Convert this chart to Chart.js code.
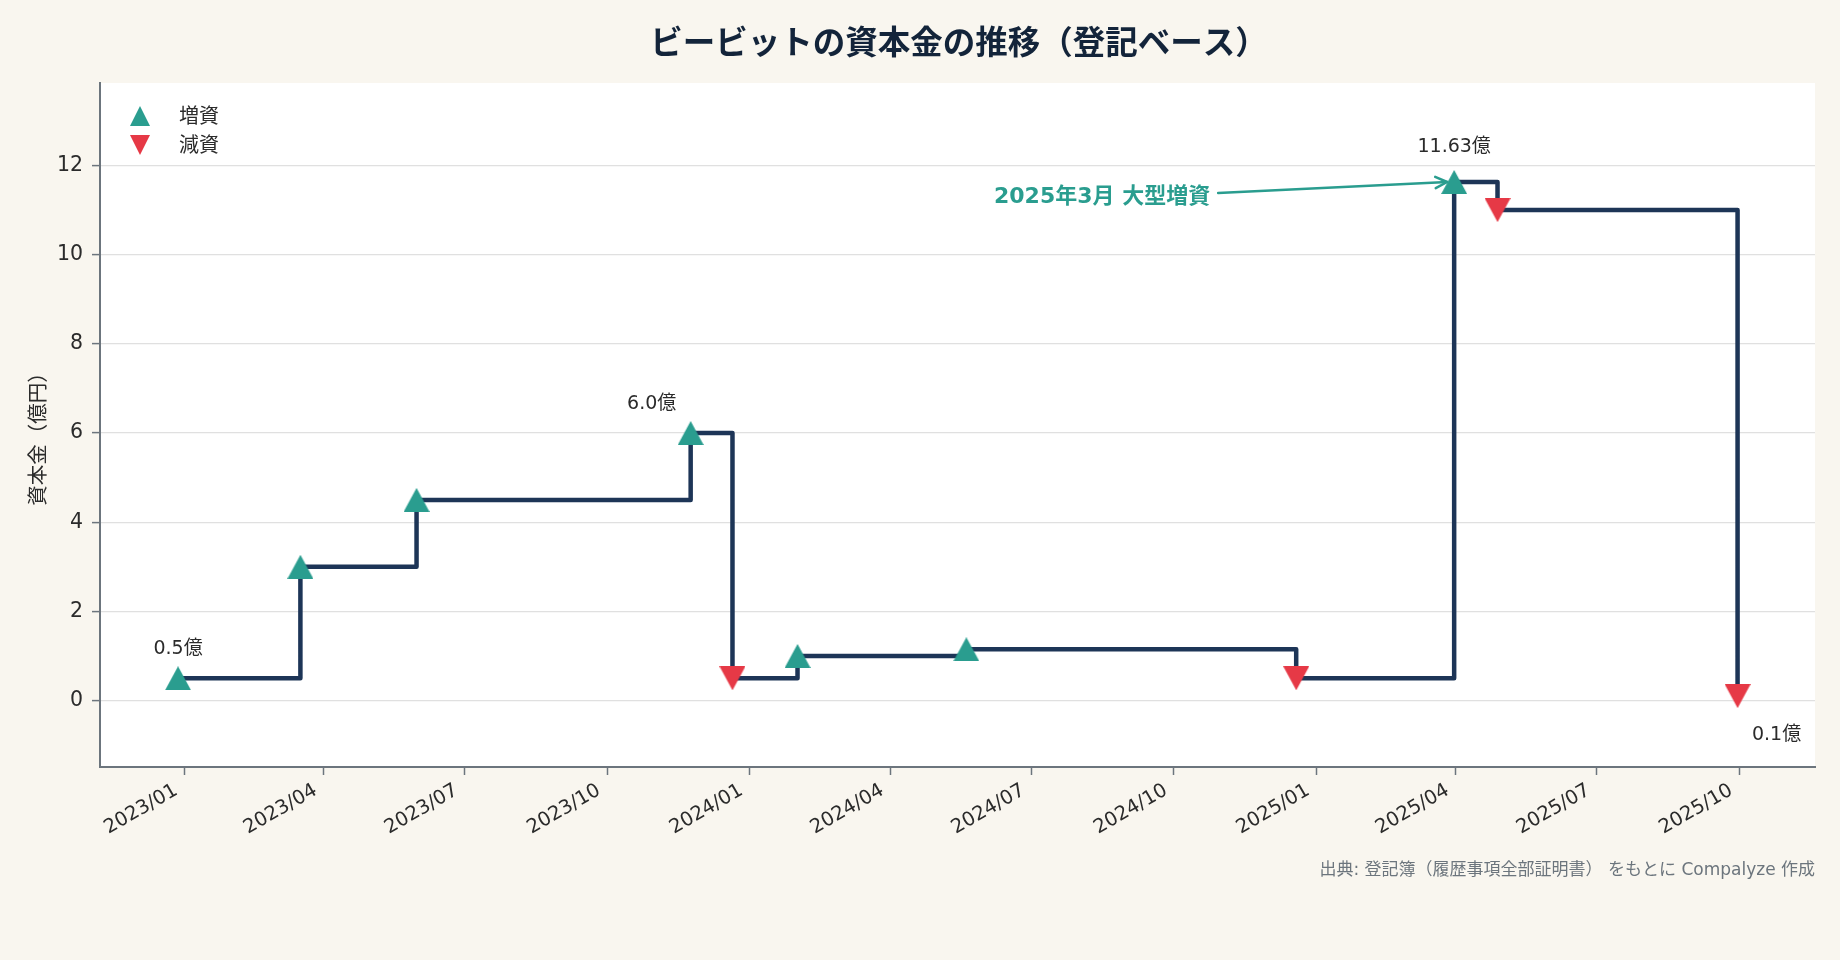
<!DOCTYPE html>
<html>
<head>
<meta charset="utf-8">
<script src="https://cdn.jsdelivr.net/npm/chart.js@4.4.1/dist/chart.umd.min.js"></script>
<style>
html,body{margin:0;padding:0;background:#f9f6ef;}
canvas{display:block;}
</style>
</head>
<body>
<canvas id="c" width="1840" height="960"></canvas>
<script>
// ---------------- data ----------------
const eventDates = ['2022-12-28','2023-03-17','2023-05-31','2023-11-24','2023-12-21','2024-02-01','2024-05-20','2024-12-19','2025-03-31','2025-04-28','2025-09-30'];
const capital    = [0.5, 3.0, 4.5, 6.0, 0.5, 1.0, 1.15, 0.5, 11.63, 11.0, 0.1];
const eventType  = ['up','up','up','up','down','up','up','down','up','down','down'];

const xTickDates  = ['2023-01-01','2023-04-01','2023-07-01','2023-10-01','2024-01-01','2024-04-01','2024-07-01','2024-10-01','2025-01-01','2025-04-01','2025-07-01','2025-10-01'];
const xTickLabels = ['2023/01','2023/04','2023/07','2023/10','2024/01','2024/04','2024/07','2024/10','2025/01','2025/04','2025/07','2025/10'];
const yTicks = [0, 2, 4, 6, 8, 10, 12];

const valueLabelIndex = [0, 3, 8, 10];
const valueLabelTexts = ['0.5億', '6.0億', '11.63億', '0.1億'];

const legendLabels = ['増資', '減資'];
const chartTitle = 'ビービットの資本金の推移（登記ベース）';
const yAxisTitle = '資本金（億円）';
const annotationText = '2025年3月 大型増資';
const annotationIndex = 8;
const sourceText = '出典: 登記簿（履歴事項全部証明書） をもとに Compalyze 作成';

// ---------------- style ----------------
const C_BG = '#f9f6ef', C_PLOT = '#ffffff', C_LINE = '#1d3557', C_UP = '#2a9d8f', C_DOWN = '#e63946';
const C_AXIS = '#6c757d', C_GRID = '#e0e0e0', C_TEXT = '#2b2b2b', C_TITLE = '#13243a';
const FONT = '"DejaVu Sans", "Noto Sans CJK JP", sans-serif';
const FONT_CJK = '"Noto Sans CJK JP", sans-serif';
const LBL_OFF = [[0,-29],[-39,-29],[0,-35],[39,39]];

const DAY = 86400000;
const t = s => Date.parse(s + 'T00:00:00Z');
const X_MIN = t('2022-11-07') + 0.6 * DAY;
const X_MAX = t('2025-11-19');

function triCanvas(w, h, color, down) {
  const c = document.createElement('canvas');
  c.width = w; c.height = h;
  const g = c.getContext('2d');
  g.fillStyle = color;
  g.beginPath();
  if (down) { g.moveTo(0, 0); g.lineTo(w, 0); g.lineTo(w / 2, h); }
  else { g.moveTo(w / 2, 0); g.lineTo(w, h); g.lineTo(0, h); }
  g.closePath(); g.fill();
  return c;
}
const upMark = triCanvas(26, 24, C_UP, false);
const downMark = triCanvas(26, 24, C_DOWN, true);
const upLeg = triCanvas(20, 20, C_UP, false);
const downLeg = triCanvas(20, 20, C_DOWN, true);

const linePts = eventDates.map((d, i) => ({x: t(d), y: capital[i]}));
const upPts = linePts.filter((p, i) => eventType[i] === 'up');
const downPts = linePts.filter((p, i) => eventType[i] === 'down');

const decor = {
  id: 'decor',
  beforeDraw(chart) {
    const {ctx, chartArea: a} = chart;
    ctx.save();
    ctx.fillStyle = C_BG;
    ctx.fillRect(0, 0, chart.width, chart.height);
    ctx.fillStyle = C_PLOT;
    ctx.fillRect(a.left, a.top, a.right - a.left, a.bottom - a.top);
    ctx.restore();
  },
  afterDatasetsDraw(chart) {
    const {ctx, chartArea: a, scales} = chart;
    const xs = scales.x, ys = scales.y;
    ctx.save();
    // title
    ctx.fillStyle = C_TITLE;
    ctx.font = 'bold 32.5px ' + FONT_CJK;
    ctx.textAlign = 'center'; ctx.textBaseline = 'middle';
    ctx.fillText(chartTitle, 959, 42);
    // y title
    ctx.save();
    ctx.translate(37.5, 434);
    ctx.rotate(-Math.PI / 2);
    ctx.fillStyle = C_TEXT;
    ctx.font = '20.5px ' + FONT_CJK;
    ctx.fillText(yAxisTitle, 0, 0);
    ctx.restore();
    // source
    ctx.fillStyle = C_AXIS;
    ctx.font = '17px ' + FONT;
    ctx.textAlign = 'right';
    ctx.fillText(sourceText, a.right, 871);
    // value labels
    ctx.fillStyle = C_TEXT;
    ctx.font = '19px ' + FONT;
    ctx.textAlign = 'center';
    valueLabelIndex.forEach((idx, k) => {
      const px = xs.getPixelForValue(t(eventDates[idx]));
      const py = ys.getPixelForValue(capital[idx]);
      ctx.fillText(valueLabelTexts[k], px + LBL_OFF[k][0], py + LBL_OFF[k][1]);
    });
    // annotation
    const ax = xs.getPixelForValue(t(eventDates[annotationIndex]));
    const ay = ys.getPixelForValue(capital[annotationIndex]);
    ctx.fillStyle = C_UP;
    ctx.font = 'bold 22px ' + FONT;
    ctx.textAlign = 'right';
    ctx.fillText(annotationText, ax - 244, ay + 15);
    const sx = ax - 236, sy = ay + 11, ex = ax - 7, ey = ay;
    ctx.strokeStyle = C_UP; ctx.lineWidth = 2.5; ctx.lineCap = 'round'; ctx.lineJoin = 'round';
    ctx.beginPath(); ctx.moveTo(sx, sy); ctx.lineTo(ex, ey); ctx.stroke();
    const ang = Math.atan2(ey - sy, ex - sx), hl = 13, hw = 0.45;
    ctx.beginPath();
    ctx.moveTo(ex - hl * Math.cos(ang - hw), ey - hl * Math.sin(ang - hw));
    ctx.lineTo(ex, ey);
    ctx.lineTo(ex - hl * Math.cos(ang + hw), ey - hl * Math.sin(ang + hw));
    ctx.stroke();
    // legend
    ctx.drawImage(upLeg, a.left + 40 - 10, a.top + 33 - 10);
    ctx.drawImage(downLeg, a.left + 40 - 10, a.top + 62 - 10);
    ctx.fillStyle = C_TEXT;
    ctx.font = '20px ' + FONT_CJK;
    ctx.textAlign = 'left';
    ctx.fillText(legendLabels[0], a.left + 79, a.top + 32);
    ctx.fillText(legendLabels[1], a.left + 79, a.top + 61);
    ctx.restore();
  }
};

new Chart(document.getElementById('c'), {
  type: 'line',
  data: {
    datasets: [
      {label: legendLabels[0], data: upPts, showLine: false, pointStyle: upMark, pointRadius: 13, pointHoverRadius: 13, order: 0},
      {label: legendLabels[1], data: downPts, showLine: false, pointStyle: downMark, pointRadius: 13, pointHoverRadius: 13, order: 1},
      {label: '資本金', data: linePts, stepped: true, borderColor: C_LINE, borderWidth: 4.5, pointRadius: 0,
       fill: false, borderJoinStyle: 'round', borderCapStyle: 'round', order: 2, clip: false}
    ]
  },
  options: {
    responsive: false,
    devicePixelRatio: 1,
    animation: false,
    events: [],
    layout: {padding: {top: 83, left: 0, right: 25, bottom: 0}},
    plugins: {legend: {display: false}, tooltip: {enabled: false}, title: {display: false}},
    scales: {
      x: {
        type: 'linear', min: X_MIN, max: X_MAX,
        afterBuildTicks(s) { s.ticks = xTickDates.map(d => ({value: t(d)})); },
        afterFit(s) { s.height = 193; s.paddingLeft = 0; s.paddingRight = 0; },
        ticks: {
          autoSkip: false, maxRotation: 30, minRotation: 30, padding: 4, labelOffset: -8,
          color: C_TEXT, font: {family: FONT, size: 19.5},
          callback(v) { const i = xTickDates.findIndex(d => t(d) === v); return i >= 0 ? xTickLabels[i] : ''; }
        },
        grid: {drawOnChartArea: false, drawTicks: true, tickLength: 8, tickWidth: 1.5, tickColor: C_AXIS},
        border: {display: true, color: C_AXIS, width: 2}
      },
      y: {
        type: 'linear', min: -1.49, max: 13.85,
        afterBuildTicks(s) { s.ticks = yTicks.map(v => ({value: v})); },
        afterFit(s) { s.width = 100; },
        ticks: {padding: 9, color: C_TEXT, font: {family: FONT, size: 20.5}, callback: v => String(v)},
        grid: {color: C_GRID, lineWidth: 1.2, drawTicks: true, tickLength: 8, tickWidth: 1.5, tickColor: C_AXIS},
        border: {display: true, color: C_AXIS, width: 2}
      }
    }
  },
  plugins: [decor]
});
</script>
</body>
</html>
